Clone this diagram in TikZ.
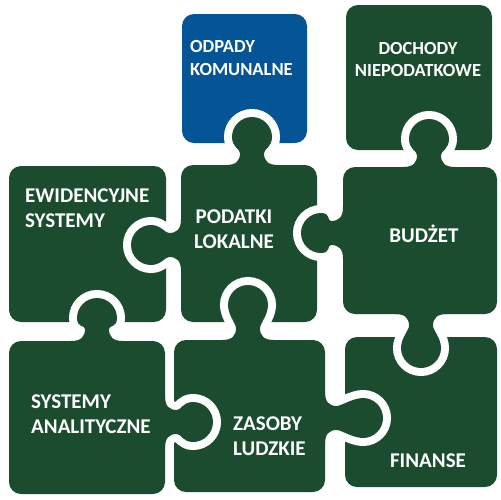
\documentclass[tikz,border=0pt]{standalone}
\usepackage{fontspec}
\setmainfont{Carlito}

\definecolor{puzzlegreen}{RGB}{28,76,48}
\definecolor{puzzleblue}{RGB}{4,84,150}

\newcommand\knob[1]{(-26,-6) -- (-26,0) .. controls (-16,0) and (-12,4) .. (-12,12)
  .. controls (-12,16) and (-20,#1-30) .. (-20,#1-20)
  .. controls (-20,#1-9) and (-11,#1) .. (0,#1)
  .. controls (11,#1) and (20,#1-9) .. (20,#1-20)
  .. controls (20,#1-30) and (12,16) .. (12,12)
  .. controls (12,4) and (16,0) .. (26,0) -- (26,-6) -- cycle}

\newcommand\piece[3]{%
  \foreach \layer in {halo,#1} {
    \path[\layer, rounded corners=12pt] #2;
    \foreach \kx/\ky/\ka/\kl in {#3}
      \path[\layer, shift={(\kx,\ky)}, rotate=\ka] \knob{\kl};
  }}

\begin{document}
\begin{tikzpicture}[
    x=1pt, y=-1pt,
    halo/.style={draw=white, line width=16pt},
    green tile/.style={fill=puzzlegreen},
    blue tile/.style={fill=puzzleblue},
    tile text/.style={text=white, inner sep=0pt, font=\bfseries\fontsize{21}{25}\selectfont},
    small tile text/.style={tile text, font=\bfseries\fontsize{18.5}{22.5}\selectfont},
]
\useasboundingbox (0,0) rectangle (501,499);

\fill[blue tile, rounded corners=12pt] (182,14) rectangle (307,143);
\fill[green tile, rounded corners=12pt] (346,5) rectangle (492,150);
\fill[green tile, rounded corners=12pt] (9,166) rectangle (166,322);
\fill[green tile, rounded corners=12pt] (345,337) rectangle (497,487);

\piece{green tile}{(181,165) rectangle (317,322)}{252/165/180/48, 181/245/-90/50}
\piece{green tile}{(174,340) rectangle (325,492)}{248/340/180/55, 325/418/90/58}
\piece{green tile}{(9,341) rectangle (165,494)}{97/341/180/43, 165/422/90/48}
\piece{green tile}{(343,167) rectangle (497,314)}{429/167/180/48, 343/233/-90/42, 421/314/0/54}

\node[small tile text, align=left, anchor=west] (odpady) at (190,58) {ODPADY\\KOMUNALNE};
\node[small tile text, align=center] (dochody) at (418,59.5) {DOCHODY\\NIEPODATKOWE};
\node[tile text, align=left, anchor=west] (ewidencyjne) at (25,208) {EWIDENCYJNE\\SYSTEMY};
\node[tile text, align=center] (podatki) at (234,229) {PODATKI\\LOKALNE};
\node[tile text, anchor=base] (budzet) at (424,242) {BUDŻET};
\node[tile text, align=left, anchor=west] (systemy) at (31,414) {SYSTEMY\\ANALITYCZNE};
\node[tile text, align=left, anchor=west] (zasoby) at (233,436) {ZASOBY\\LUDZKIE};
\node[tile text, anchor=base] (finanse) at (428,467) {FINANSE};
\end{tikzpicture}
\end{document}
